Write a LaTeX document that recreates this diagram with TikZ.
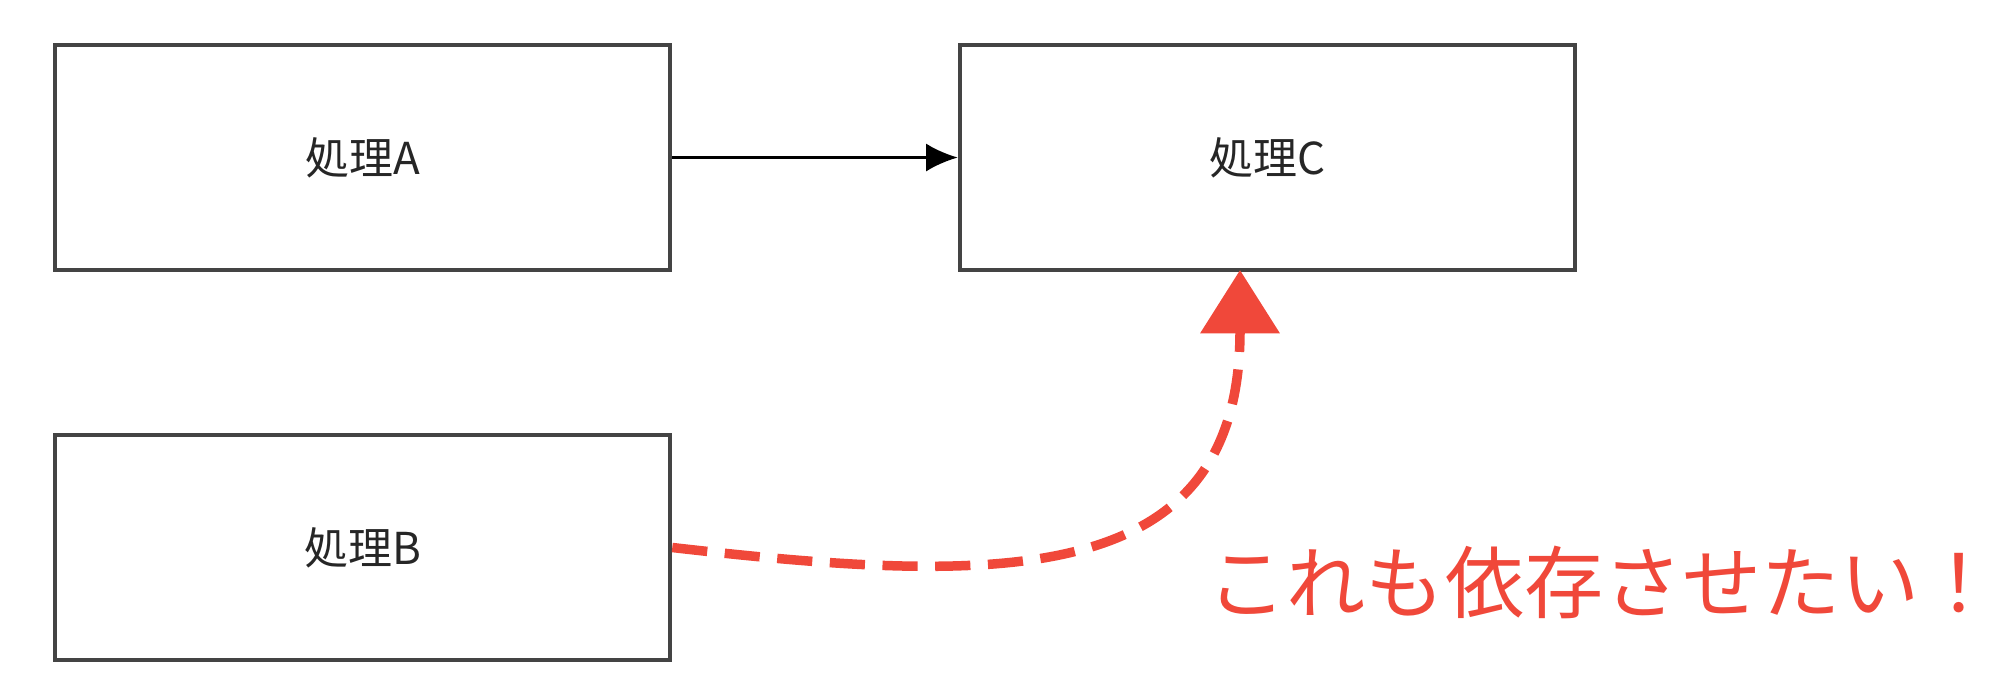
\documentclass[tikz,border=0pt]{standalone}
\usepackage{fontspec}
\setmainfont{Noto Sans CJK JP}
\usetikzlibrary{arrows.meta}
\definecolor{redc}{RGB}{240,72,58}
\definecolor{boxc}{RGB}{68,68,68}
\begin{document}
\begin{tikzpicture}[x=0.01cm,y=-0.01cm,
  box/.style={draw=boxc,line width=1.2pt,minimum width=6.15cm,minimum height=2.25cm,inner sep=0pt,font=\fontsize{12.5}{14}\selectfont,text=black!85}]
\useasboundingbox (0,0) rectangle (2000,699);
\node[box] (A) at (362.5,157.5) {処理A};
\node[box] (C) at (1267.5,157.5) {処理C};
\node[box] (B) at (362.5,547.5) {処理B};
\draw[line width=0.8pt,-{Latex[length=9pt,width=8pt]}] (A.east) -- (C.west);
\coordinate (ct) at (1240,270);
\draw[redc,line width=2.7pt,dash pattern=on 10pt off 5pt,-{Triangle[length=18pt,width=22pt]}]
  (B.east) .. controls (1000,585) and (1240,590) .. (ct);
\node[text=redc,font=\fontsize{22.5}{26}\selectfont,anchor=west,inner sep=0pt] (t) at (1207,582) {これも依存させたい！};
\end{tikzpicture}
\end{document}
